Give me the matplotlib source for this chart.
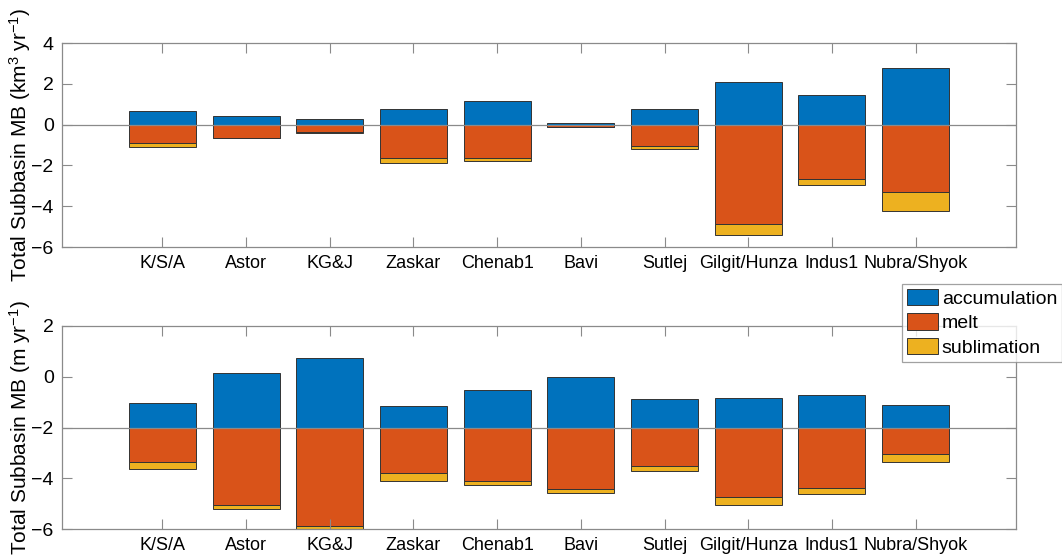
import matplotlib
matplotlib.use("Agg")
import matplotlib.pyplot as plt
import numpy as np

plt.rcParams['font.family'] = ['Liberation Sans', 'DejaVu Sans']
plt.rcParams['mathtext.fontset'] = 'custom'
plt.rcParams['mathtext.rm'] = 'Liberation Sans'
plt.rcParams['mathtext.default'] = 'regular'

basins = ['K/S/A', 'Astor', 'KG&J', 'Zaskar', 'Chenab1', 'Bavi', 'Sutlej',
          'Gilgit/Hunza', 'Indus1', 'Nubra/Shyok']

# total subbasin mass balance terms (km3/yr), magnitudes
acc_vol = [0.69, 0.44, 0.26, 0.75, 1.16, 0.08, 0.77, 2.08, 1.44, 2.79]
melt_vol = [0.92, 0.64, 0.38, 1.62, 1.62, 0.10, 1.05, 4.87, 2.65, 3.30]
subl_vol = [0.19, 0.03, 0.02, 0.26, 0.14, 0.03, 0.13, 0.52, 0.29, 0.92]

# specific mass balance terms (m/yr), magnitudes
acc_m = [0.98, 2.14, 2.74, 0.83, 1.48, 1.98, 1.14, 1.15, 1.29, 0.88]
melt_m = [1.34, 3.06, 3.90, 1.80, 2.10, 2.44, 1.51, 2.74, 2.39, 1.05]
subl_m = [0.30, 0.15, 0.15, 0.32, 0.17, 0.16, 0.22, 0.32, 0.23, 0.31]

base_vol = 0
base_m = -2

colors = ['#0072BD', '#D95319', '#EDB120']
edge = '#333333'
grey = '#8a8a8a'

fig = plt.figure(figsize=(10.62, 5.59), dpi=100)
ax1 = fig.add_axes([62 / 1062, 1 - 247 / 559, 954 / 1062, 204 / 559])
ax2 = fig.add_axes([62 / 1062, 1 - 529 / 559, 954 / 1062, 203 / 559])

x = np.arange(1, len(basins) + 1)


def stacked(ax, acc, melt, subl, base):
    acc = np.array(acc)
    melt = np.array(melt)
    subl = np.array(subl)
    b1 = ax.bar(x, acc, 0.8, bottom=base, color=colors[0], edgecolor=edge,
                linewidth=0.7, label='accumulation')
    b2 = ax.bar(x, -melt, 0.8, bottom=base, color=colors[1], edgecolor=edge,
                linewidth=0.7, label='melt')
    b3 = ax.bar(x, -subl, 0.8, bottom=base - melt, color=colors[2],
                edgecolor=edge, linewidth=0.7, label='sublimation')
    ax.axhline(base, color=grey, linewidth=0.9, zorder=3)
    ax.set_xlim(-0.2, 11.2)
    ax.set_xticks(x)
    ax.set_xticklabels(basins)
    ax.tick_params(direction='in', top=True, right=True, length=7,
                   width=0.8, color=grey, pad=6)
    ax.tick_params(axis='x', labelsize=13)
    ax.tick_params(axis='y', labelsize=14)
    for s in ax.spines.values():
        s.set_color(grey)
        s.set_linewidth(0.9)
    return b1, b2, b3


stacked(ax1, acc_vol, melt_vol, subl_vol, base_vol)
ax1.set_ylim(-6, 4)
ax1.set_yticks([-6, -4, -2, 0, 2, 4])
ax1.set_ylabel('Total Subbasin MB (km$^3$ yr$^{-1}$)', fontsize=15)
ax1.yaxis.set_label_coords(-0.03, 0.5)

handles = stacked(ax2, acc_m, melt_m, subl_m, base_m)
ax2.set_ylim(-6, 2)
ax2.set_yticks([-6, -4, -2, 0, 2])
ax2.set_ylabel('Total Subbasin MB (m yr$^{-1}$)', fontsize=15)
ax2.yaxis.set_label_coords(-0.03, 0.5)

leg = fig.legend(handles, ['accumulation', 'melt', 'sublimation'],
                 loc='upper right', bbox_to_anchor=(1.0, 1 - 284 / 559),
                 fontsize=14, frameon=True, fancybox=False,
                 handlelength=1.6, handleheight=0.9, handletextpad=0.2,
                 labelspacing=0.3, borderpad=0.25, borderaxespad=0)
leg.get_frame().set_edgecolor(grey)
leg.get_frame().set_linewidth(0.9)

fig.savefig('out.png', dpi=100)
